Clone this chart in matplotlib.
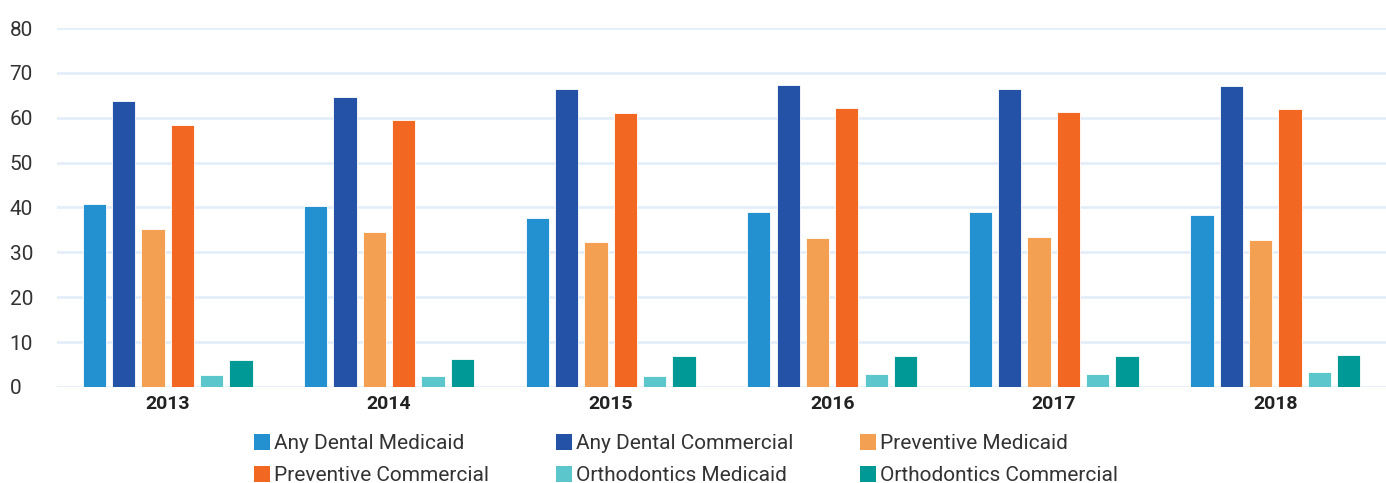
import matplotlib
matplotlib.use("Agg")
from matplotlib import pyplot as plt
from matplotlib.patches import Patch
import numpy as np

plt.rcParams['font.family'] = ['Roboto', 'DejaVu Sans']

years = ['2013', '2014', '2015', '2016', '2017', '2018']
series_names = ['Any Dental Medicaid', 'Any Dental Commercial', 'Preventive Medicaid',
                'Preventive Commercial', 'Orthodontics Medicaid', 'Orthodontics Commercial']
any_dental_medicaid = [40.8, 40.4, 37.7, 39.0, 39.0, 38.4]
any_dental_commercial = [63.7, 64.7, 66.3, 67.3, 66.4, 67.0]
preventive_medicaid = [35.1, 34.5, 32.3, 33.2, 33.4, 32.7]
preventive_commercial = [58.4, 59.6, 61.1, 62.2, 61.3, 61.9]
ortho_medicaid = [2.6, 2.5, 2.5, 2.8, 2.8, 3.4]
ortho_commercial = [5.9, 6.3, 6.8, 6.8, 6.8, 7.0]

colors = ['#2391d0', '#2452a6', '#f4a053', '#f26722', '#5bc6cb', '#009995']
all_series = [any_dental_medicaid, any_dental_commercial, preventive_medicaid,
              preventive_commercial, ortho_medicaid, ortho_commercial]

fig = plt.figure(figsize=(13.86, 4.83), dpi=100)
ax = fig.add_axes([0.041, 0.199, 0.959, 0.743])

x = np.arange(len(years))
pitch = 0.1324
width = 0.105
for k, (vals, c) in enumerate(zip(all_series, colors)):
    ax.bar(x + (k - 2.5) * pitch, vals, width, color=c, edgecolor='white',
           linewidth=0.6, zorder=3)

ax.set_xlim(-0.5, 5.5)
ax.set_ylim(0, 80)
ax.set_yticks(range(0, 81, 10))
ax.yaxis.grid(True, color='#e1edf9', linewidth=1.8, zorder=0)
ax.set_axisbelow(True)
for s in ax.spines.values():
    s.set_visible(False)
ax.tick_params(axis='y', length=0, pad=34, labelsize=15, labelcolor='#333333')
ax.tick_params(axis='x', length=0, pad=6)
ax.set_xticks(x)
ax.set_xticklabels(years, fontsize=14, fontweight='bold', color='#222222')
for lab in ax.get_yticklabels():
    lab.set_horizontalalignment('left')

handles = [Patch(facecolor=c, edgecolor='none') for c in colors]
# matplotlib fills legend columns first, so reorder to get row order
order = [0, 3, 1, 4, 2, 5]
fig.legend([handles[i] for i in order], [series_names[i] for i in order],
           ncol=3, loc='center', bbox_to_anchor=(0.495, 0.048), frameon=False,
           fontsize=15, handlelength=0.77, handleheight=0.77, handletextpad=0.2,
           columnspacing=3.2, labelspacing=0.62, labelcolor='#333333')

fig.savefig('out.png', dpi=100)
